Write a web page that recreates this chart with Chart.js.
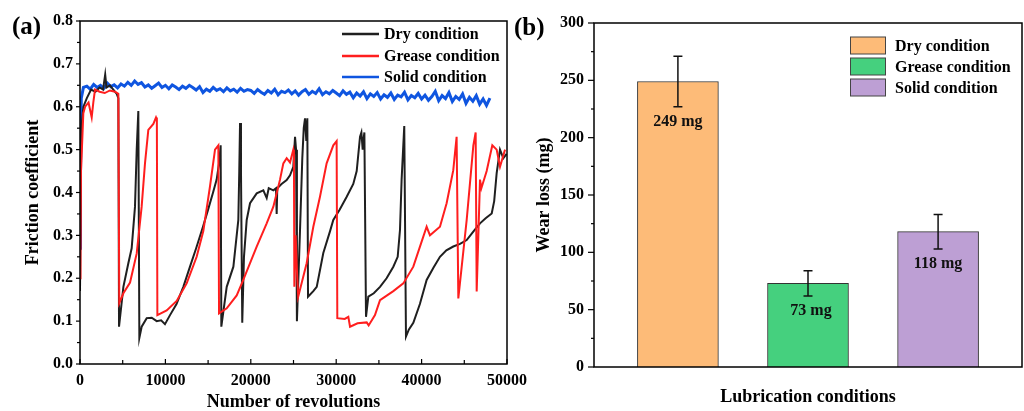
<!DOCTYPE html>
<html>
<head>
<meta charset="utf-8">
<script src="https://cdn.jsdelivr.net/npm/chart.js@4.4.0/dist/chart.umd.min.js"></script>
<style>
html, body { margin: 0; padding: 0; background: #fff; }
#wrap { position: relative; width: 1024px; height: 411px; overflow: hidden; }
#ca { position: absolute; left: 0; top: 0; }
#cb { position: absolute; left: 512px; top: 0; }
</style>
</head>
<body>
<div id="wrap">
  <canvas id="ca" width="545" height="411"></canvas>
  <canvas id="cb" width="512" height="411"></canvas>
</div>
<script>
// ---- panel (a): friction coefficient vs revolutions ----
const seriesNames = ['Dry condition', 'Grease condition', 'Solid condition'];

const dryX = [0, 150, 400, 800, 1300, 1800, 2300, 2700, 2950, 3100,
  3500, 3900, 4300, 4490, 4570, 5080, 5660, 6050, 6440, 6640,
  6830, 6950, 7220, 7810, 8400, 8980, 9500, 9950, 10540, 11300,
  12100, 12880, 13600, 14400, 15000, 15580, 16000, 16300, 16470, 16550,
  17180, 17960, 18540, 18650, 18740, 18850, 19000, 19200, 19520, 19910,
  20690, 21470, 21860, 22100, 22640, 22950, 23030, 23100, 23600, 24200,
  24590, 24980, 25180, 25300, 25400, 25760, 26030, 26200, 26350, 26500,
  26620, 26700, 27320, 27720, 28490, 29280, 29660, 30400, 31230, 32000,
  32400, 32790, 32950, 33100, 33180, 33300, 33490, 33760, 34400, 35130,
  35900, 36690, 37200, 37470, 37660, 37970, 38170, 38500, 39030, 39800,
  40590, 41400, 42150, 42900, 43710, 44500, 45280, 46100, 46840, 47500,
  48210, 48500, 48790, 49180, 49570, 49960];
const dryY = [0.17, 0.55, 0.6, 0.62, 0.64, 0.635, 0.645, 0.64, 0.675, 0.645,
  0.65, 0.64, 0.63, 0.62, 0.087, 0.18, 0.235, 0.27, 0.367, 0.5,
  0.59, 0.061, 0.087, 0.107, 0.108, 0.1, 0.102, 0.093, 0.114, 0.14,
  0.18, 0.227, 0.27, 0.32, 0.36, 0.40, 0.43, 0.47, 0.51, 0.087,
  0.18, 0.227, 0.336, 0.45, 0.562, 0.45, 0.096, 0.25, 0.336, 0.375,
  0.398, 0.405, 0.387, 0.41, 0.405, 0.41, 0.35, 0.41, 0.42, 0.429,
  0.44, 0.46, 0.53, 0.5, 0.1, 0.31, 0.48, 0.55, 0.573, 0.52,
  0.573, 0.157, 0.17, 0.18, 0.259, 0.31, 0.336, 0.36, 0.39, 0.42,
  0.45, 0.53, 0.54, 0.5, 0.52, 0.54, 0.11, 0.157, 0.165, 0.18,
  0.2, 0.227, 0.25, 0.313, 0.43, 0.555, 0.064, 0.08, 0.096, 0.14,
  0.196, 0.225, 0.25, 0.265, 0.274, 0.28, 0.289, 0.31, 0.328, 0.34,
  0.351, 0.38, 0.445, 0.5, 0.48, 0.49];

const greaseX = [0, 60, 120, 390, 600, 1000, 1370, 1560, 1760, 2300,
  2900, 3500, 4100, 4490, 4600, 5080, 5860, 6640, 7220, 7610,
  8000, 8590, 8900, 9000, 9060, 10150, 11320, 12490, 13660, 14440,
  15220, 15810, 16200, 16280, 17180, 18350, 19120, 20690, 21860, 22640,
  23420, 23810, 24200, 24590, 24980, 25050, 25100, 25250, 25400, 25550,
  26540, 27320, 28100, 28880, 29660, 30050, 30130, 31000, 31420, 31620,
  32500, 33570, 33800, 34540, 35130, 36690, 37860, 39030, 40200, 40590,
  40980, 42150, 42930, 43710, 44100, 44300, 45280, 46060, 46330, 46450,
  46840, 47000, 47620, 48280, 48790, 49180, 49770];
const greaseY = [0.2, 0.27, 0.45, 0.585, 0.6, 0.61, 0.575, 0.61, 0.64, 0.635,
  0.632, 0.638, 0.635, 0.63, 0.142, 0.165, 0.19, 0.258, 0.367, 0.468,
  0.546, 0.56, 0.575, 0.57, 0.114, 0.125, 0.147, 0.188, 0.25, 0.31,
  0.414, 0.5, 0.51, 0.118, 0.13, 0.16, 0.196, 0.274, 0.328, 0.367,
  0.43, 0.468, 0.48, 0.47, 0.5, 0.49, 0.18, 0.3, 0.22, 0.157,
  0.235, 0.32, 0.39, 0.468, 0.51, 0.52, 0.107, 0.105, 0.11, 0.087,
  0.095, 0.097, 0.09, 0.114, 0.149, 0.17, 0.188, 0.227, 0.297, 0.32,
  0.30, 0.32, 0.375, 0.452, 0.53, 0.153, 0.336, 0.51, 0.54, 0.169,
  0.43, 0.41, 0.45, 0.51, 0.5, 0.46, 0.5];

// solid: start-up points, then readings every 400 revolutions from 800
const solidStartX = [0, 60, 150, 400];
const solidStartY = [0.27, 0.45, 0.62, 0.645];
const solidFirst = 800, solidStep = 400;
const solidY = [
  0.648, 0.641, 0.652, 0.645, 0.650, 0.643, 0.655, 0.647, 0.651, 0.644,
  0.653, 0.648, 0.657, 0.650, 0.660, 0.652, 0.656, 0.646, 0.651, 0.643,
  0.649, 0.655, 0.645, 0.650,
  0.642, 0.651, 0.646, 0.640, 0.648, 0.643, 0.650, 0.645, 0.639, 0.647,
  0.633, 0.641, 0.636, 0.645, 0.638, 0.642, 0.635, 0.644, 0.637, 0.641,
  0.634, 0.643, 0.636, 0.640, 0.638,
  0.631, 0.640, 0.634, 0.629, 0.638, 0.632, 0.641, 0.628, 0.636, 0.633,
  0.639, 0.630, 0.637, 0.627, 0.635, 0.640, 0.629, 0.636, 0.631, 0.642,
  0.628, 0.635, 0.630, 0.638, 0.632,
  0.626, 0.637, 0.629, 0.634, 0.621, 0.632, 0.625, 0.635, 0.619, 0.630,
  0.624, 0.633, 0.618, 0.628, 0.622, 0.632, 0.617, 0.627, 0.623, 0.634,
  0.616, 0.626, 0.621, 0.631, 0.618,
  0.627, 0.615, 0.624, 0.636, 0.614, 0.626, 0.619, 0.633, 0.612, 0.624,
  0.617, 0.630, 0.608, 0.622, 0.613, 0.626, 0.606, 0.618, 0.603, 0.620];

const lineColors = ['#1f1f1f', '#ff1e1e', '#0f55e0'];

// ---- panel (b): wear loss ----
const wearLabels = ['Dry condition', 'Grease condition', 'Solid condition'];
const wearLoss = [249, 73, 118];
const wearHi = [271, 84, 133];
const wearLo = [227, 62, 103];
const barColors = ['#fdbb78', '#45d07e', '#bd9fd4'];

Chart.defaults.font.family = "'Liberation Serif', 'Times New Roman', serif";
Chart.defaults.font.weight = 'bold';
Chart.defaults.color = '#000';
Chart.defaults.animation = false;

function pairs(xs, ys) { return xs.map((x, i) => ({ x: x, y: ys[i] })); }
const solidData = pairs(solidStartX, solidStartY)
  .concat(solidY.map((y, i) => ({ x: solidFirst + i * solidStep, y: y })));

// box frame + tick marks (major at scale ticks, minor halfway)
function frameTicks(id, cfg) {
  return {
    id: id,
    afterDraw(chart) {
      const { ctx, chartArea: a, scales } = chart;
      ctx.save();
      ctx.strokeStyle = '#000';
      ctx.lineWidth = 1.5;
      ctx.strokeRect(a.left, a.top, a.right - a.left, a.bottom - a.top);
      ctx.lineWidth = 1.2;
      const ys = scales.y, yt = ys.ticks.map(t => t.value);
      yt.forEach((v, i) => {
        const p = ys.getPixelForValue(v);
        ctx.beginPath(); ctx.moveTo(a.left, p); ctx.lineTo(a.left - cfg.yMajor, p); ctx.stroke();
        if (i < yt.length - 1) {
          const q = ys.getPixelForValue((v + yt[i + 1]) / 2);
          ctx.beginPath(); ctx.moveTo(a.left, q); ctx.lineTo(a.left - cfg.yMinor, q); ctx.stroke();
        }
      });
      if (cfg.xTicks) {
        const xs = scales.x, xt = xs.ticks.map(t => t.value);
        xt.forEach((v, i) => {
          const p = xs.getPixelForValue(v);
          ctx.beginPath(); ctx.moveTo(p, a.bottom); ctx.lineTo(p, a.bottom - 5); ctx.stroke();
          if (i < xt.length - 1) {
            const q = xs.getPixelForValue((v + xt[i + 1]) / 2);
            ctx.beginPath(); ctx.moveTo(q, a.bottom); ctx.lineTo(q, a.bottom - 4); ctx.stroke();
          }
        });
      }
      ctx.fillStyle = '#000';
      ctx.font = "bold 25px 'Liberation Serif', serif";
      ctx.textBaseline = 'middle';
      ctx.textAlign = 'left';
      ctx.fillText(cfg.tag, cfg.tagX, cfg.tagY);
      ctx.restore();
    }
  };
}

const lineLegend = {
  id: 'lineLegend',
  afterDraw(chart) {
    const ctx = chart.ctx;
    const rows = [34, 56, 77];
    ctx.save();
    ctx.font = "bold 16px 'Liberation Serif', serif";
    ctx.textBaseline = 'middle';
    rows.forEach((y, i) => {
      ctx.strokeStyle = lineColors[i];
      ctx.lineWidth = 2.5;
      ctx.beginPath(); ctx.moveTo(342, y); ctx.lineTo(379, y); ctx.stroke();
      ctx.fillStyle = '#000';
      ctx.fillText(seriesNames[i], 384, y + 1);
    });
    ctx.restore();
  }
};

new Chart(document.getElementById('ca'), {
  type: 'line',
  data: {
    datasets: [
      { label: seriesNames[0], data: pairs(dryX, dryY), borderColor: lineColors[0], borderWidth: 2, order: 1 },
      { label: seriesNames[1], data: pairs(greaseX, greaseY), borderColor: lineColors[1], borderWidth: 2, order: 0 },
      { label: seriesNames[2], data: solidData, borderColor: lineColors[2], borderWidth: 3, order: 2 }
    ]
  },
  options: {
    responsive: false,
    devicePixelRatio: 1,
    layout: { padding: { top: 21, right: 38, left: 0, bottom: 0 } },
    elements: { point: { radius: 0 }, line: { tension: 0 } },
    plugins: { legend: { display: false }, tooltip: { enabled: false } },
    scales: {
      x: {
        type: 'linear', min: 0, max: 50000,
        afterFit(s) { s.height = 47; },
        grid: { display: false, drawTicks: false }, border: { display: false },
        ticks: { stepSize: 10000, padding: 7, maxRotation: 0, font: { size: 16, weight: 'bold' }, callback: v => String(v) },
        title: { display: true, text: 'Number of revolutions', font: { size: 18, weight: 'bold', lineHeight: 1 }, padding: { top: 0, bottom: 0 } }
      },
      y: {
        min: 0, max: 0.8,
        afterFit(s) { s.width = 80; },
        grid: { display: false, drawTicks: false }, border: { display: false },
        ticks: { stepSize: 0.1, padding: 7, font: { size: 16, weight: 'bold' }, callback: v => v.toFixed(1) },
        title: { display: true, text: 'Friction coefficient', font: { size: 18, weight: 'bold', lineHeight: 1 }, padding: { top: 24, bottom: 0 } }
      }
    }
  },
  plugins: [frameTicks('frameA', { yMajor: 4, yMinor: 3, xTicks: true, tag: '(a)', tagX: 12, tagY: 28 }), lineLegend]
});

// error bars, value labels and legend for the bar panel
const barExtras = {
  id: 'barExtras',
  afterDatasetsDraw(chart) {
    const ctx = chart.ctx, ys = chart.scales.y;
    const bars = chart.getDatasetMeta(0).data;
    ctx.save();
    ctx.strokeStyle = '#111';
    ctx.lineWidth = 1.5;
    ctx.fillStyle = '#111';
    ctx.font = "bold 16px 'Liberation Serif', serif";
    ctx.textAlign = 'center';
    ctx.textBaseline = 'middle';
    bars.forEach((b, i) => {
      const hi = ys.getPixelForValue(wearHi[i]);
      const lo = ys.getPixelForValue(wearLo[i]);
      ctx.beginPath();
      ctx.moveTo(b.x, hi); ctx.lineTo(b.x, lo);
      ctx.moveTo(b.x - 4.5, hi); ctx.lineTo(b.x + 4.5, hi);
      ctx.moveTo(b.x - 4.5, lo); ctx.lineTo(b.x + 4.5, lo);
      ctx.stroke();
      ctx.fillText(wearLoss[i] + ' mg', b.x + (i === 1 ? 3 : 0), lo + 15);
    });
    // legend
    const rows = [45.5, 66.5, 87.5];
    ctx.textAlign = 'left';
    rows.forEach((y, i) => {
      ctx.fillStyle = barColors[i];
      ctx.fillRect(338, y - 8.5, 35, 17);
      ctx.strokeStyle = '#444';
      ctx.lineWidth = 1;
      ctx.strokeRect(338.5, y - 8.5, 35, 17);
      ctx.fillStyle = '#000';
      ctx.fillText(wearLabels[i], 383, y + 1);
    });
    ctx.restore();
  }
};

new Chart(document.getElementById('cb'), {
  type: 'bar',
  data: {
    datasets: [{
      label: 'Wear loss',
      data: wearLoss.map((v, i) => ({ x: i + 1, y: v })),
      backgroundColor: barColors,
      borderColor: '#333',
      borderWidth: 1,
      barThickness: 81
    }]
  },
  options: {
    responsive: false,
    devicePixelRatio: 1,
    layout: { padding: { top: 23, right: 2, left: 0, bottom: 0 } },
    plugins: { legend: { display: false }, tooltip: { enabled: false } },
    scales: {
      x: {
        type: 'linear', min: 0.355, max: 3.645, offset: false,
        afterFit(s) { s.height = 44; },
        grid: { display: false, drawTicks: false }, border: { display: false },
        ticks: { display: false },
        title: { display: true, text: 'Lubrication conditions', font: { size: 18, weight: 'bold', lineHeight: 1 }, padding: { top: 0, bottom: 5 } }
      },
      y: {
        min: 0, max: 300,
        afterFit(s) { s.width = 82; },
        grid: { display: false, drawTicks: false }, border: { display: false },
        ticks: { stepSize: 50, padding: 10, font: { size: 16, weight: 'bold' } },
        title: { display: true, text: 'Wear loss (mg)', font: { size: 18, weight: 'bold', lineHeight: 1 }, padding: { top: 23, bottom: 0 } }
      }
    }
  },
  plugins: [barExtras, frameTicks('frameB', { yMajor: 6, yMinor: 3, xTicks: false, tag: '(b)', tagX: 2, tagY: 29 })]
});
</script>
</body>
</html>
